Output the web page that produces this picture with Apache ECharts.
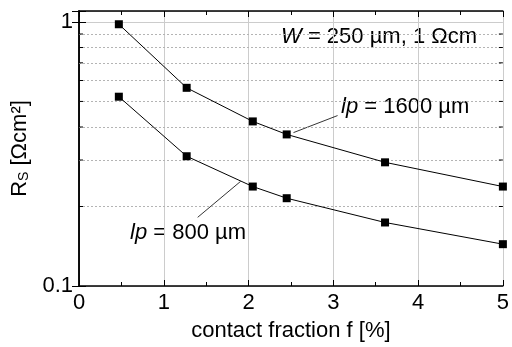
<!DOCTYPE html>
<html>
<head>
<meta charset="utf-8">
<script src="https://cdn.jsdelivr.net/npm/echarts@6/dist/echarts.min.js"></script>
<style>
  html, body { margin: 0; padding: 0; background: #fff; }
  #chart { width: 512px; height: 347px; }
</style>
</head>
<body>
<div id="chart"></div>
<script>
// contact fraction f [%]
var fraction = [0.47, 1.27, 2.05, 2.45, 3.61, 5.0];
// R_S [Ωcm²] for the two pitches
var rs1600 = [0.98, 0.563, 0.42, 0.375, 0.294, 0.238];
var rs800 = [0.521, 0.31, 0.238, 0.215, 0.174, 0.144];
// minor decade values for dotted grid and ticks
var minorVals = [0.2, 0.3, 0.4, 0.5, 0.6, 0.7, 0.8, 0.9];
// leader lines for the labels
var lead1600 = [[2.53, 0.381], [3.05, 0.442]];
var lead800 = [[1.40, 0.182], [1.906, 0.249]];

var font = 'Liberation Sans, Arial, sans-serif';
var fs = 22;
var myChart = echarts.init(document.getElementById('chart'));

function pairs(xs, ys) {
    return xs.map(function (x, i) { return [x, ys[i]]; });
}

var markGrid = {
    silent: true,
    symbol: 'none',
    label: { show: false },
    lineStyle: { color: '#b4b4b4', type: [2, 2], width: 1 },
    data: minorVals.map(function (v) { return { yAxis: v }; })
};

function leader(pts) {
    return {
        silent: true,
        symbol: 'none',
        label: { show: false },
        lineStyle: { color: '#000', type: 'solid', width: 0.8 },
        data: [[{ coord: pts[0] }, { coord: pts[1] }]]
    };
}

function label(txt, x, y) {
    return {
        type: 'text', left: x, top: y,
        style: {
            text: txt,
            fill: '#000', fontSize: fs, fontFamily: font,
            rich: { i: { fontStyle: 'italic', fontSize: fs, fontFamily: font } }
        }
    };
}

var option = {
    animation: false,
    backgroundColor: '#fff',
    grid: { left: 79, right: 7, top: 11, bottom: 60 },
    xAxis: [{
        type: 'value', min: 0, max: 5, interval: 1, position: 'bottom',
        axisLine: { lineStyle: { color: '#000', width: 1.5 } },
        axisTick: { inside: true, length: 6, lineStyle: { color: '#000' } },
        minorTick: { show: true, splitNumber: 2, length: 4, lineStyle: { color: '#000' } },
        axisLabel: { color: '#000', fontSize: fs, fontFamily: font, margin: 6 },
        splitLine: { show: true, lineStyle: { color: '#cccccc', width: 1 } },
        name: 'contact fraction f [%]', nameLocation: 'middle', nameGap: 34,
        nameTextStyle: { color: '#000', fontSize: fs, fontFamily: font }
    }, {
        type: 'value', min: 0, max: 5, interval: 1, position: 'top',
        axisLine: { lineStyle: { color: '#000', width: 1.5 } },
        axisTick: { inside: true, length: 6, lineStyle: { color: '#000' } },
        minorTick: { show: true, splitNumber: 2, length: 4, lineStyle: { color: '#000' } },
        axisLabel: { show: false },
        splitLine: { show: false }
    }],
    yAxis: [{
        type: 'log', logBase: 10, min: 0.1, max: 1.1, position: 'left',
        axisLine: { show: true, lineStyle: { color: '#000', width: 1.5 } },
        axisTick: { inside: true, length: 7, lineStyle: { color: '#000' } },
        axisLabel: {
            color: '#000', fontSize: fs, fontFamily: font, margin: 6,
            formatter: function (v) {
                if (Math.abs(v - 1) < 1e-6) return '1';
                if (Math.abs(v - 0.1) < 1e-6) return '0.1';
                return '';
            }
        },
        splitLine: { show: true, lineStyle: { color: '#cccccc', width: 1 } },
        name: 'R{sub|S} [Ωcm²]', nameLocation: 'middle', nameGap: 47, nameRotate: 90,
        nameTextStyle: {
            color: '#000', fontSize: fs, fontFamily: font,
            rich: { sub: { fontSize: 14, fontFamily: font, color: '#000', verticalAlign: 'bottom', padding: [9, 0, 0, 0] } }
        }
    }, {
        type: 'log', logBase: 10, min: 0.1, max: 1.1, position: 'right',
        axisLine: { show: true, lineStyle: { color: '#000', width: 1.5 } },
        axisTick: { inside: true, length: 7, lineStyle: { color: '#000' } },
        axisLabel: { show: false },
        splitLine: { show: false }
    }],
    series: [{
        name: 'lp = 1600 µm', type: 'line',
        data: pairs(fraction, rs1600),
        symbol: 'rect', symbolSize: 8,
        itemStyle: { color: '#000' },
        lineStyle: { color: '#000', width: 1 },
        markLine: leader(lead1600),
        z: 5
    }, {
        name: 'lp = 800 µm', type: 'line',
        data: pairs(fraction, rs800),
        symbol: 'rect', symbolSize: 8,
        itemStyle: { color: '#000' },
        lineStyle: { color: '#000', width: 1 },
        markLine: leader(lead800),
        z: 5
    }, {
        name: 'grid', type: 'line', data: [],
        markLine: markGrid, z: 1
    }, {
        name: 'minorTicks', type: 'custom',
        data: minorVals,
        silent: true,
        renderItem: function (params, api) {
            var v = api.value(0);
            var l = api.coord([0, v]);
            var r = api.coord([5, v]);
            return {
                type: 'group',
                children: [{
                    type: 'line',
                    shape: { x1: l[0], y1: l[1], x2: l[0] + 4, y2: l[1] },
                    style: { stroke: '#000', lineWidth: 1 }
                }, {
                    type: 'line',
                    shape: { x1: r[0], y1: r[1], x2: r[0] - 4, y2: r[1] },
                    style: { stroke: '#000', lineWidth: 1 }
                }]
            };
        },
        encode: { y: 0 },
        z: 6
    }],
    graphic: [
        label('{i|W} = 250 µm, 1 Ωcm', 281, 26),
        label('{i|lp} = 1600 µm', 341, 96),
        label('{i|lp} = 800 µm', 130, 222)
    ]
};

myChart.setOption(option);
</script>
</body>
</html>
